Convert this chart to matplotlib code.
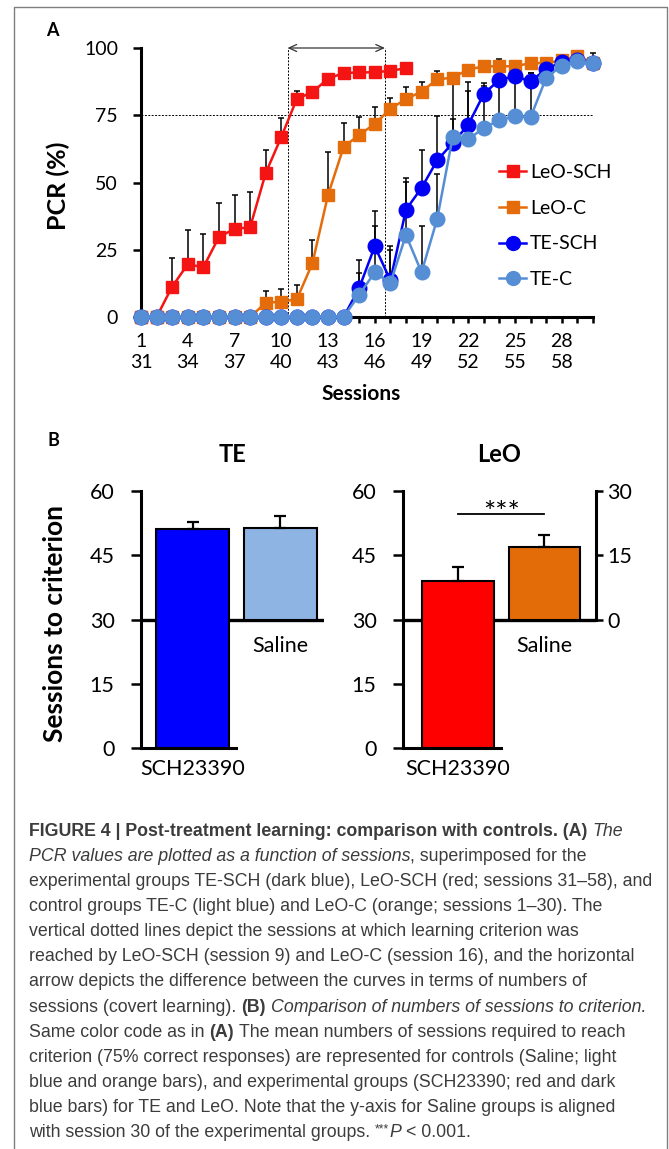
import matplotlib
matplotlib.use('Agg')
import matplotlib.pyplot as plt
from matplotlib.lines import Line2D
import numpy as np

W, H = 669, 1149

# ----- panel A : PCR (%) per session -----
sessions = np.arange(1, 31)
tick_top = list(range(1, 29, 3))
tick_bottom = [s + 30 for s in tick_top]

leo_sch = [0, 0, 11.3, 19.6, 18.5, 29.7, 32.8, 33.3, 53.5, 66.9, 81.1, 83.6,
           88.6, 90.7, 90.9, 91.0, 91.5, 92.5]
leo_sch_err = [0, 0, 10.7, 12.8, 12.4, 12.6, 12.4, 13.0, 8.7, 6.9, 3.0, 0,
               0, 0, 0, 0, 0, 0]

leo_c = [0, 0, 0, 0, 0, 0, 0, 0, 5.3, 5.7, 6.6, 20.0, 45.4, 63.2, 67.7, 71.8,
         77.4, 81.0, 83.8, 88.3, 89.0, 92.0, 93.2, 93.2, 93.2, 94.4, 94.4,
         95.4, 97.0, 94.5]
leo_c_err = [0, 0, 0, 0, 0, 0, 0, 0, 4.4, 4.7, 5.3, 8.7, 15.8, 9.1, 6.6, 6.2,
             4.1, 4.4, 3.5, 3.2, 0, 0, 0, 2.8, 0, 0, 0, 0, 0, 3.5]

te_sch = [0] * 14 + [10.8, 26.3, 13.6, 39.9, 48.0, 58.2, 64.7, 71.5, 83.0,
                     88.2, 89.5, 87.6, 92.2, 94.8, 95.4, 94.4]
te_sch_err = [0] * 14 + [10.5, 13.0, 12.7, 11.6, 14.0, 16.6, 22.3, 16.0, 3.0,
                         6.8, 2.5, 3.2, 0, 0, 0, 0]

te_c = [0] * 14 + [8.3, 16.6, 12.6, 30.5, 16.6, 36.4, 67.0, 66.0, 70.4,
                   73.2, 74.6, 74.3, 89.0, 93.4, 95.0, 94.4]
te_c_err = [0] * 14 + [8.1, 17.1, 12.4, 19.8, 17.1, 16.6, 6.5, 18.0, 16.6,
                       20.8, 14.4, 16.4, 0, 0, 0, 0]

crit_sessions = [10.4, 16.65]   # dotted vertical lines
criterion = 75

# ----- panel B : sessions to criterion -----
groups = ['TE', 'LeO']
sch_mean = [51.0, 39.0]
sch_sem = [1.6, 3.2]
saline_mean = [21.2, 16.8]      # on the 0-30 saline axis
saline_sem = [2.9, 2.8]
sig_level = 54.6

red = '#f51414'
orange = '#e46c0a'
blue = '#0000f5'
lblue = '#558ed5'


def fx(x):
    return x / W


def fy(y):
    return 1 - y / H


plt.rcParams['font.family'] = ['Lato', 'DejaVu Sans']
fig = plt.figure(figsize=(W / 100, H / 100), dpi=100)

# frame round the figure
fig.add_artist(Line2D([fx(14), fx(14), fx(667), fx(667)], [0, fy(7), fy(7), 0],
                      color='#7f7f7f', lw=1.0))

# ----- panel A -----
axA = fig.add_axes([fx(141), fy(317), (593 - 141) / W, (317 - 48) / H])

series = [('LeO-SCH', leo_sch, leo_sch_err, red, 's', 9.0),
          ('LeO-C', leo_c, leo_c_err, orange, 's', 9.0),
          ('TE-SCH', te_sch, te_sch_err, blue, 'o', 10.5),
          ('TE-C', te_c, te_c_err, lblue, 'o', 10.5)]

for i, (name, vals, err, col, mk, ms) in enumerate(series):
    vals = np.array(vals)
    err = np.array(err)
    x = sessions[:len(vals)]
    m = err > 0
    axA.errorbar(x[m], vals[m], yerr=[np.zeros(m.sum()), err[m]], fmt='none',
                 ecolor='k', elinewidth=1.1, capsize=2.5, capthick=1.1,
                 zorder=2, clip_on=False)
    axA.plot(x, vals, color=col, lw=1.8, marker=mk, ms=ms, mec=col,
             label=name, clip_on=False, zorder=3 + i)

for s in crit_sessions:
    axA.plot([s, s], [0, 100], color='k', lw=0.7, ls=(0, (2, 1.5)), zorder=1)
axA.plot([1, 30], [criterion, criterion], color='k', lw=0.7, ls=(0, (2, 1.5)),
         zorder=1)
axA.annotate('', xy=(crit_sessions[0], 100), xytext=(crit_sessions[1], 100),
             arrowprops=dict(arrowstyle='<->,head_length=0.55,head_width=0.25',
                             color='#333333', lw=0.9, shrinkA=0, shrinkB=0),
             annotation_clip=False)

axA.set_xlim(1, 30)
axA.set_ylim(0, 100)
axA.set_yticks([0, 25, 50, 75, 100])
axA.set_xticks(tick_top)
axA.set_xticklabels([f'{a}\n{b}' for a, b in zip(tick_top, tick_bottom)],
                    linespacing=1.3)
axA.set_xticks(sessions, minor=True)
axA.tick_params(axis='y', length=6, width=1.8, pad=10.5, labelsize=14)
axA.tick_params(axis='x', which='both', length=4, width=1.8, pad=7.5,
                labelsize=14)
for sp in ['top', 'right']:
    axA.spines[sp].set_visible(False)
for sp in ['left', 'bottom']:
    axA.spines[sp].set_linewidth(2.2)

axA.legend(loc='upper left', bbox_to_anchor=(fx(499), fy(164)),
           bbox_transform=fig.transFigure, frameon=False, fontsize=14,
           borderpad=0, borderaxespad=0, handlelength=1.4,
           handletextpad=0.2, labelspacing=0.96, markerscale=0.95)

fig.text(fx(52), fy(31), 'A', fontsize=13, fontweight='bold',
         ha='center', va='center')
fig.text(fx(58), fy(186), 'PCR (%)', fontsize=18, fontweight='bold',
         rotation=90, ha='center', va='center')
fig.text(fx(361), fy(394), 'Sessions', fontsize=15, fontweight='bold',
         ha='center', va='center')

# ----- panel B -----
fig.text(fx(53), fy(440), 'B', fontsize=13, fontweight='bold',
         ha='center', va='center')
fig.text(fx(55), fy(624), 'Sessions to criterion', fontsize=19,
         fontweight='bold', rotation=90, ha='center', va='center')

b_left = [141, 403]
b_width = [183, 193]
b_xlim = [(-0.59, 1.5), (-0.64, 1.6)]
sch_cols = ['#0000ff', '#ff0000']
sal_cols = ['#8eb4e3', '#e36c09']
bw = 0.83

for k in range(2):
    ax = fig.add_axes([fx(b_left[k]), fy(748.3), b_width[k] / W,
                       (748.3 - 490.7) / H])
    ax.bar(0, sch_mean[k], width=bw, color=sch_cols[k], edgecolor='k', lw=1.5,
           yerr=[[0], [sch_sem[k]]], capsize=4.5,
           error_kw=dict(elinewidth=1.6, capthick=1.6), zorder=2)
    ax.axhline(30, color='k', lw=2.4, zorder=1)
    ax.set_xlim(*b_xlim[k])
    ax.set_ylim(0, 60)
    ax.set_yticks([0, 15, 30, 45, 60])
    ax.set_xticks([0])
    ax.set_xticklabels(['SCH23390'])
    ax.tick_params(axis='y', length=7, width=1.8, pad=12, labelsize=15.5)
    ax.tick_params(axis='x', length=0, pad=8, labelsize=15.5)
    for sp in ['top', 'right']:
        ax.spines[sp].set_visible(False)
    ax.spines['left'].set_linewidth(2.2)
    ax.spines['bottom'].set_linewidth(2.2)
    ax.spines['bottom'].set_bounds(b_xlim[k][0], 0.5)
    ax.text(1, 23.8, 'Saline', ha='center', va='center', fontsize=15.5)
    ax.set_title(groups[k], fontsize=17, fontweight='bold', pad=21)

    tw = ax.twinx()
    tw.set_ylim(-30, 30)
    tw.bar(1, saline_mean[k], width=bw, color=sal_cols[k], edgecolor='k',
           lw=1.5, yerr=[[0], [saline_sem[k]]], capsize=4.5,
           error_kw=dict(elinewidth=1.6, capthick=1.6))
    for sp in ['top', 'left', 'bottom']:
        tw.spines[sp].set_visible(False)
    if k == 0:
        tw.spines['right'].set_visible(False)
        tw.set_yticks([])
    else:
        tw.spines['right'].set_linewidth(2.2)
        tw.spines['right'].set_bounds(0, 30)
        tw.set_yticks([0, 15, 30])
        tw.tick_params(axis='y', length=5, width=1.8, pad=3, labelsize=15.5)
        ax.plot([0, 1], [sig_level, sig_level], color='k', lw=1.3)
        ax.text(0.5, sig_level - 3.0, '***', ha='center', va='bottom',
                fontsize=21)

# ----- caption -----
n, b, it = 'normal', 'bold', 'italic'
caption = [
    [("FIGURE 4 | Post-treatment learning: comparison with controls. (A) ", b, n),
     ("The", n, it)],
    [("PCR values are plotted as a function of sessions", n, it),
     (", superimposed for the", n, n)],
    [("experimental groups TE-SCH (dark blue), LeO-SCH (red; sessions 31–58), and", n, n)],
    [("control groups TE-C (light blue) and LeO-C (orange; sessions 1–30). The", n, n)],
    [("vertical dotted lines depict the sessions at which learning criterion was", n, n)],
    [("reached by LeO-SCH (session 9) and LeO-C (session 16), and the horizontal", n, n)],
    [("arrow depicts the difference between the curves in terms of numbers of", n, n)],
    [("sessions (covert learning). ", n, n), ("(B) ", b, n),
     ("Comparison of numbers of sessions to criterion.", n, it)],
    [("Same color code as in ", n, n), ("(A) ", b, n),
     ("The mean numbers of sessions required to reach", n, n)],
    [("criterion (75% correct responses) are represented for controls (Saline; light", n, n)],
    [("blue and orange bars), and experimental groups (SCH23390; red and dark", n, n)],
    [("blue bars) for TE and LeO. Note that the y-axis for Saline groups is aligned", n, n)],
    [("with session 30 of the experimental groups. ", n, n), ("***", n, 'sup'),
     ("P", n, it), (" < 0.001.", n, n)],
]
cap_fs = 12.8
space = 0.278 * cap_fs * 100 / 72
renderer = fig.canvas.get_renderer()
for i, line in enumerate(caption):
    x = 29.0
    y = 836 + 25.08 * i
    for text, weight, style in line:
        fs, dy = cap_fs, 0
        if style == 'sup':
            fs, dy, style = cap_fs * 0.7, -5, n
        if text.startswith(' '):
            x += space
        t = fig.text(fx(x), fy(y + dy), text.strip(), fontsize=fs,
                     fontweight=weight, fontstyle=style, color='#3c3c3c',
                     family='Liberation Sans', ha='left', va='baseline')
        x = t.get_window_extent(renderer).x1
        if text.endswith(' '):
            x += space if style != 'sup' else 0.5

fig.savefig('out.png', dpi=100)
